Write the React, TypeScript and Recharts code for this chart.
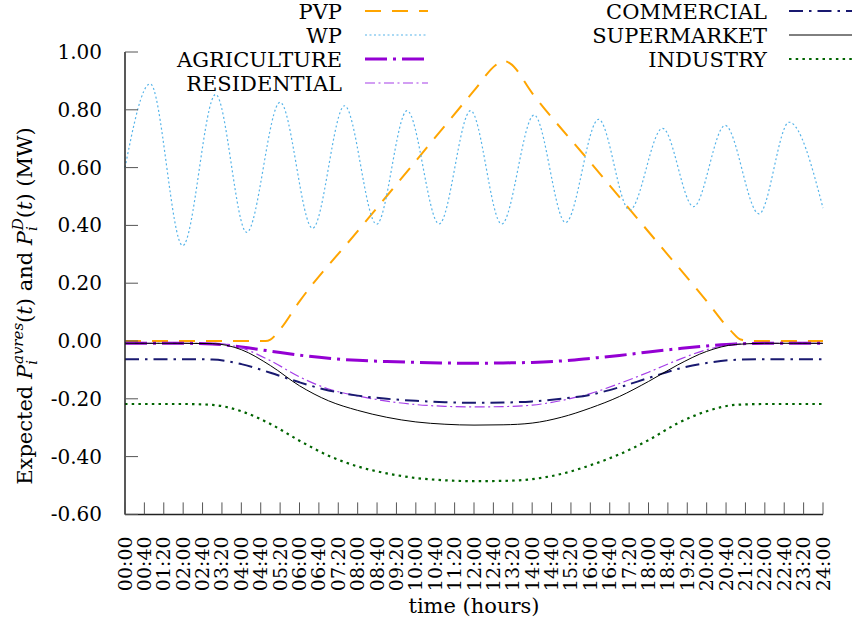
import React from "react";
import { Legend, Line, LineChart, XAxis, YAxis } from "recharts";

const FONT = '"DejaVu Serif", "Liberation Serif", serif';

// hourly sample times for the demand curves, in minutes after midnight
const HOUR_T = [
  0, 60, 120, 180, 240, 300, 360, 420, 480, 540, 600, 660, 720, 780, 840, 900, 960, 1020, 1080, 1140,
  1200, 1260, 1320, 1380, 1440,
];

const AGRICULTURE = [
  -0.008, -0.008, -0.008, -0.01, -0.021, -0.035, -0.049, -0.06, -0.067, -0.071, -0.074, -0.076, -0.077,
  -0.076, -0.074, -0.069, -0.06, -0.05, -0.038, -0.027, -0.017, -0.01, -0.008, -0.008, -0.008,
];
const RESIDENTIAL = [
  -0.008, -0.008, -0.008, -0.008, -0.024, -0.068, -0.124, -0.166, -0.19, -0.208, -0.22, -0.226, -0.228,
  -0.227, -0.222, -0.206, -0.182, -0.147, -0.108, -0.066, -0.03, -0.011, -0.008, -0.008, -0.008,
];
const COMMERCIAL = [
  -0.063, -0.063, -0.063, -0.064, -0.08, -0.11, -0.143, -0.171, -0.189, -0.2, -0.207, -0.212, -0.214,
  -0.213, -0.209, -0.2, -0.186, -0.16, -0.128, -0.097, -0.076, -0.065, -0.063, -0.063, -0.063,
];
const SUPERMARKET = [
  -0.008, -0.008, -0.008, -0.009, -0.03, -0.085, -0.155, -0.207, -0.24, -0.264, -0.28, -0.288, -0.291,
  -0.29, -0.284, -0.264, -0.232, -0.192, -0.14, -0.083, -0.036, -0.012, -0.008, -0.008, -0.008,
];
const INDUSTRY = [
  -0.218, -0.218, -0.218, -0.221, -0.243, -0.287, -0.345, -0.397, -0.434, -0.458, -0.474, -0.482, -0.485,
  -0.484, -0.478, -0.46, -0.43, -0.392, -0.343, -0.285, -0.243, -0.221, -0.218, -0.218, -0.218,
];

// photovoltaic output
const PVP_T = [0, 240, 290, 300, 320, 360, 480, 600, 720, 765, 780, 795, 840, 960, 1080, 1200, 1250, 1270, 1290, 1440];
const PVP = [0, 0, 0, 0.005, 0.04, 0.137, 0.38, 0.623, 0.866, 0.955, 0.97, 0.96, 0.858, 0.618, 0.378, 0.138, 0.035, 0.005, 0, 0];

// wind output: turning points of the oscillation
const WP_T = [
  0, 52, 119, 187, 251, 320, 387, 453, 519, 582, 648, 713, 777, 844, 909, 977, 1041, 1109, 1173, 1238,
  1308, 1370, 1440,
];
const WP = [
  0.6, 0.89, 0.33, 0.853, 0.376, 0.826, 0.39, 0.814, 0.404, 0.797, 0.405, 0.797, 0.405, 0.782, 0.41, 0.767,
  0.453, 0.736, 0.465, 0.746, 0.44, 0.757, 0.46,
];

const X_TICKS = Array.from({ length: 37 }, (_, i) => i * 40);
const Y_TICKS = [-0.6, -0.4, -0.2, 0, 0.2, 0.4, 0.6, 0.8, 1.0];

type Series = {
  name: string;
  t: number[];
  v: number[];
  color: string;
  width: number;
  dash?: string;
};

const SERIES: Series[] = [
  { name: "PVP", t: PVP_T, v: PVP, color: "#FFA500", width: 2, dash: "16 11" },
  { name: "WP", t: WP_T, v: WP, color: "#56B4E9", width: 1.2, dash: "2 2.5" },
  { name: "AGRICULTURE", t: HOUR_T, v: AGRICULTURE, color: "#9400D3", width: 3, dash: "22 6 3 6" },
  { name: "RESIDENTIAL", t: HOUR_T, v: RESIDENTIAL, color: "#A53EE8", width: 1.2, dash: "10 3.5 2 3.5" },
  { name: "COMMERCIAL", t: HOUR_T, v: COMMERCIAL, color: "#191970", width: 2, dash: "14 6 2.5 6" },
  { name: "SUPERMARKET", t: HOUR_T, v: SUPERMARKET, color: "#000000", width: 1 },
  { name: "INDUSTRY", t: HOUR_T, v: INDUSTRY, color: "#006400", width: 2.2, dash: "2.5 4.2" },
];

const TICK_FS = 19;
const KEY_FS = 21;
const TITLE_FS = 21;

const fmtTime = (m: number) =>
  `${String(Math.floor(m / 60)).padStart(2, "0")}:${String(m % 60).padStart(2, "0")}`;

function XTick({ x, y, payload }: any) {
  const axisY = y - 22;
  return (
    <g>
      <line x1={x} x2={x} y1={axisY} y2={axisY - 12} stroke="#555" strokeWidth={1} />
      <text
        transform={`translate(${x},${y}) rotate(-90)`}
        textAnchor="end"
        dy={6.5}
        fontSize={TICK_FS}
        fontFamily={FONT}
        fill="#000"
      >
        {fmtTime(payload.value)}
      </text>
    </g>
  );
}

function YTick({ x, y, payload }: any) {
  const axisX = x + 23;
  return (
    <g>
      <line x1={axisX} x2={axisX + 13} y1={y} y2={y} stroke="#555" strokeWidth={1} />
      <text x={x} y={y} dy={7} textAnchor="end" fontSize={TICK_FS + 1} fontFamily={FONT} fill="#000">
        {Number(payload.value).toFixed(2)}
      </text>
    </g>
  );
}

function YTitle() {
  return (
    <text
      transform="translate(32,306) rotate(-90)"
      textAnchor="middle"
      fontSize={TITLE_FS}
      fontFamily={FONT}
      fill="#000"
    >
      <tspan>Expected </tspan>
      <tspan fontStyle="italic">P</tspan>
      <tspan fontSize={15} fontStyle="italic" dy={5}>i</tspan>
      <tspan fontSize={15} fontStyle="italic" dx={-4} dy={-14}>avres</tspan>
      <tspan dy={9}>(</tspan>
      <tspan fontStyle="italic">t</tspan>
      <tspan>) and </tspan>
      <tspan fontStyle="italic">P</tspan>
      <tspan fontSize={15} fontStyle="italic" dy={5}>i</tspan>
      <tspan fontSize={15} fontStyle="italic" dx={-4} dy={-14}>D</tspan>
      <tspan dy={9}>(</tspan>
      <tspan fontStyle="italic">t</tspan>
      <tspan>) (MW)</tspan>
    </text>
  );
}

function XTitle({ viewBox }: any) {
  const cx = viewBox ? viewBox.x + viewBox.width / 2 : 474;
  return (
    <text x={cx} y={613} textAnchor="middle" fontSize={TITLE_FS} fontFamily={FONT} fill="#000">
      time (hours)
    </text>
  );
}

// two right-aligned columns of keys across the top
function KeyBlock() {
  return (
    <svg width={854} height={100} style={{ display: "block" }}>
      {SERIES.map((s, i) => {
        const col = i < 4 ? 0 : 1;
        const row = i < 4 ? i : i - 4;
        const textRight = col === 0 ? 342 : 767;
        const x0 = col === 0 ? 365 : 789;
        const base = 18.5 + row * 24;
        return (
          <g key={s.name}>
            <text x={textRight} y={base} textAnchor="end" fontSize={KEY_FS} fontFamily={FONT} fill="#000">
              {s.name}
            </text>
            <line
              x1={x0}
              x2={x0 + 63}
              y1={base - 7.5}
              y2={base - 7.5}
              stroke={s.color}
              strokeWidth={s.width}
              strokeDasharray={s.dash}
            />
          </g>
        );
      })}
    </svg>
  );
}

export default function App() {
  return (
    <div
      style={{
        position: "absolute",
        left: 0,
        top: 0,
        width: 854,
        height: 625,
        background: "#fff",
        fontFamily: FONT,
      }}
    >
      <LineChart width={854} height={625} margin={{ top: 52, right: 31, bottom: 50.6, left: 65 }}>
        <XAxis
          dataKey="t"
          type="number"
          domain={[0, 1440]}
          ticks={X_TICKS}
          interval={0}
          height={60}
          tickSize={0}
          tickMargin={22}
          tick={<XTick />}
          axisLine={{ stroke: "#222", strokeWidth: 1.5 }}
          tickLine={false}
          label={<XTitle />}
        />
        <YAxis
          type="number"
          domain={[-0.6, 1.0]}
          ticks={Y_TICKS}
          interval={0}
          width={60}
          tickSize={0}
          tickMargin={23}
          tick={<YTick />}
          axisLine={{ stroke: "#222", strokeWidth: 1.5 }}
          tickLine={false}
          label={<YTitle />}
        />
        <Legend
          layout="horizontal"
          verticalAlign="middle"
          align="center"
          content={<KeyBlock />}
          wrapperStyle={{ position: "absolute", left: 0, top: 0, width: 854, height: 100 }}
        />
        {SERIES.map((s) => (
          <Line
            key={s.name}
            name={s.name}
            data={s.t.map((t, i) => ({ t, v: s.v[i] }))}
            dataKey="v"
            type="monotoneX"
            stroke={s.color}
            strokeWidth={s.width}
            strokeDasharray={s.dash}
            dot={false}
            activeDot={false}
            isAnimationActive={false}
          />
        ))}
      </LineChart>
    </div>
  );
}
